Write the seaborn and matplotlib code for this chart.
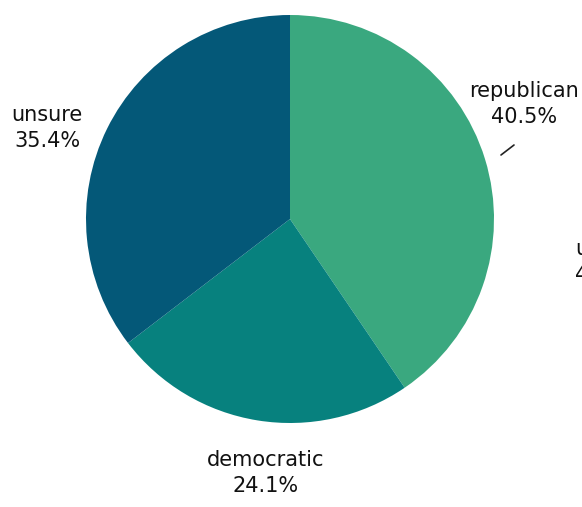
import matplotlib
matplotlib.use("Agg")
import matplotlib.pyplot as plt
import seaborn as sns

categories = ["republican", "democratic", "unsure"]
shares = [40.5, 24.1, 35.4]
colors = ["#3aa87f", "#07817e", "#045878"]

sns.set_theme(style="white")
plt.rcParams['font.family'] = ['DejaVu Sans']

W, H = 582, 507
fig = plt.figure(figsize=(W / 100, H / 100), dpi=100)
fig.patch.set_facecolor("white")
ax = fig.add_axes([0, 0, 1, 1])

cx, cy, r = 290, H - 219, 204
ax.pie(shares, colors=colors, startangle=90, counterclock=False,
       center=(cx, cy), radius=r, frame=True,
       wedgeprops=dict(linewidth=0))
ax.set_xlim(0, W)
ax.set_ylim(0, H)
ax.set_aspect("equal")
ax.set_axis_off()

fs = 15
lab = {
    "republican": (524, H - 104),
    "democratic": (266, H - 473),
    "unsure": (47, H - 128),
}
for cat, val in zip(categories, shares):
    x, y = lab[cat]
    ax.text(x, y, f"{cat}\n{val}%", ha="center", va="center",
            fontsize=fs, color="#111111", linespacing=1.35)

# small tick mark near republican label
ax.plot([501, 514], [H - 155, H - 145], color="#222222", lw=1.2)

# partially visible label at the right edge (cut off in the reference too)
ax.text(575, H - 262, "unsure\n4", ha="left", va="center",
        fontsize=fs, color="#111111", linespacing=1.35, clip_on=False)

fig.savefig("out.png", dpi=100, facecolor="white")
